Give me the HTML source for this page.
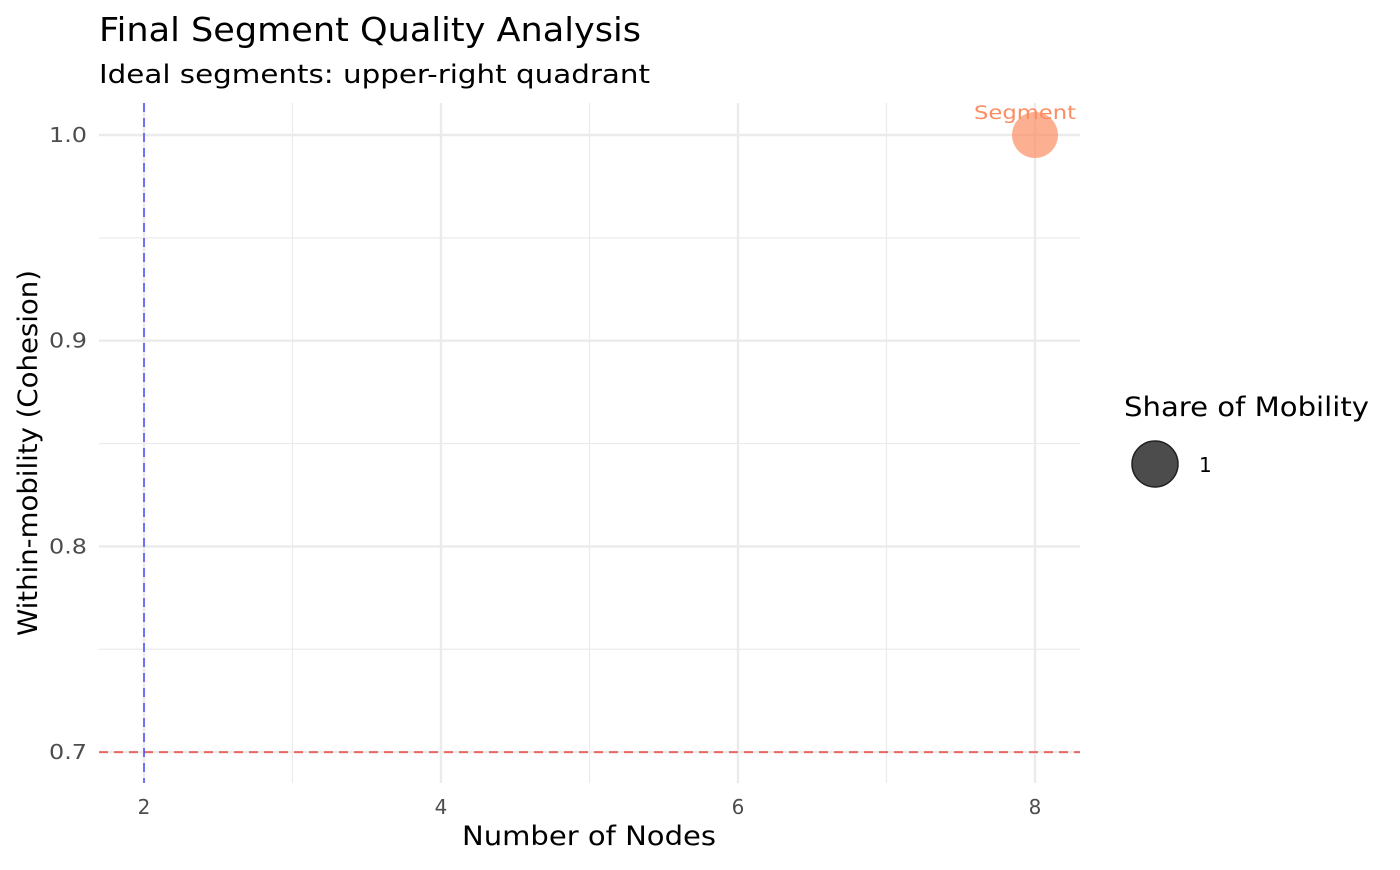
<!DOCTYPE html>
<html><head><meta charset="utf-8"><style>
body{margin:0;background:#fff;font-family:"DejaVu Sans","Liberation Sans",sans-serif;}
svg text{font-family:"DejaVu Sans","Liberation Sans",sans-serif;}
</style></head><body>
<svg id="chart" width="1400" height="866" xmlns="http://www.w3.org/2000/svg">
<text x="99" y="41" font-size="33" fill="#000" textLength="542" lengthAdjust="spacingAndGlyphs">Final Segment Quality Analysis</text>
<text x="99" y="83" font-size="26" fill="#000" textLength="551" lengthAdjust="spacingAndGlyphs">Ideal segments: upper-right quadrant</text>
<g id="grid"></g>
<g id="marks"></g>
<text x="462" y="845" font-size="27" textLength="254" lengthAdjust="spacingAndGlyphs">Number of Nodes</text>
<text transform="translate(37,636) rotate(-90)" font-size="27" textLength="366" lengthAdjust="spacingAndGlyphs">Within-mobility (Cohesion)</text>
<g>
<text x="1124" y="416" font-size="27" textLength="245" lengthAdjust="spacingAndGlyphs">Share of Mobility</text>
<circle cx="1155" cy="464" r="23" fill="rgba(0,0,0,0.7)" stroke="#222" stroke-width="1.5"/>
<text x="1199" y="472" font-size="20">1</text>
</g>
</svg>
<script>
const xTicks=[2,4,6,8];
const yTicks=[0.7,0.8,0.9,1.0];
const segX=[8];
const segY=[1.0];
const segLabels=["Segment"];
const refX=2, refY=0.7;
const sx=v=>144+(v-2)*148.5;
const sy=v=>135+(1.0-v)*2057;
const NS="http://www.w3.org/2000/svg";
const g=document.getElementById('grid'), m=document.getElementById('marks');
function el(t,a,p){const e=document.createElementNS(NS,t);for(const k in a)e.setAttribute(k,a[k]);p.appendChild(e);return e;}
const x0=99,x1=1080,y0=103,y1=783;
for(let i=0;i<xTicks.length-1;i++){const v=(xTicks[i]+xTicks[i+1])/2;
const l=el('line',{x1:sx(v),x2:sx(v),y1:y0,y2:y1,stroke:'#ebebeb','stroke-width':1.2},g);
}
for(let i=0;i<yTicks.length-1;i++){const v=(yTicks[i]+yTicks[i+1])/2;
const l=el('line',{x1:x0,x2:x1,y1:sy(v),y2:sy(v),stroke:'#ebebeb','stroke-width':1.2},g);
}
xTicks.forEach(v=>{const l=el('line',{x1:sx(v),x2:sx(v),y1:y0,y2:y1,stroke:'#ebebeb','stroke-width':2.4},g);

const t=el('text',{x:sx(v),y:814,'font-size':20,fill:'#4d4d4d','text-anchor':'middle'},g);t.textContent=v;
});
yTicks.forEach(v=>{const l=el('line',{x1:x0,x2:x1,y1:sy(v),y2:sy(v),stroke:'#ebebeb','stroke-width':2.4},g);

const t=el('text',{x:49,y:sy(v)+7,'font-size':20,fill:'#4d4d4d',textLength:38,lengthAdjust:'spacingAndGlyphs'},g);t.textContent=v.toFixed(1);
});
const h=el('line',{x1:x0,x2:x1,y1:sy(refY),y2:sy(refY),stroke:'rgba(230,50,40,0.7)','stroke-width':2,'stroke-dasharray':'9,6'},m);

const vl=el('line',{x1:sx(refX),x2:sx(refX),y1:y0,y2:y1,stroke:'rgba(60,60,255,0.7)','stroke-width':2,'stroke-dasharray':'9,6'},m);

segX.forEach((v,i)=>{const c=el('circle',{cx:sx(v),cy:sy(segY[i]),r:23,fill:'rgba(252,141,98,0.7)'},m);

const t=el('text',{x:sx(v)-61,y:sy(segY[i])-16,'font-size':19,fill:'#fc8d62',textLength:102,lengthAdjust:'spacingAndGlyphs'},m);t.textContent=segLabels[i];
});
</script>
</body></html>
